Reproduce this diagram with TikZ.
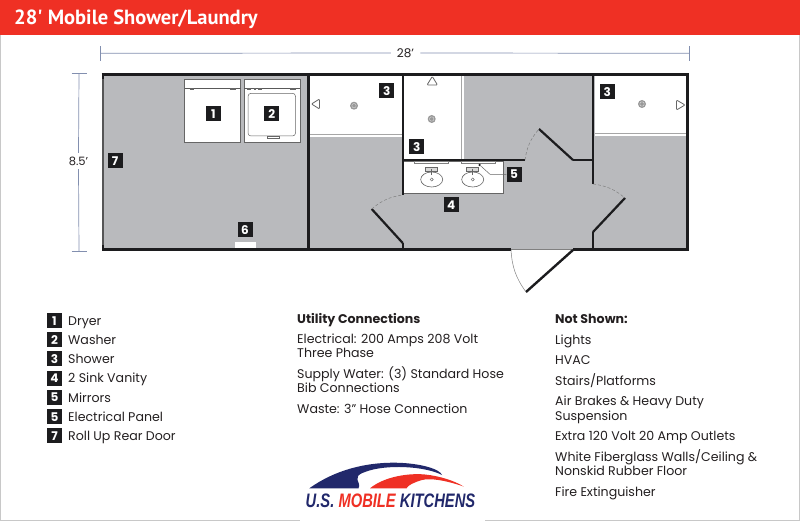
\documentclass[tikz,border=0pt]{standalone}
\usepackage{fontspec}
\setmainfont{Poppins}
\newfontfamily\titlefont{PT Sans}
\newfontfamily\logofont{Liberation Sans}
\usepackage{xcolor}
\definecolor{HeaderRed}{RGB}{239,48,36}
\definecolor{FloorGray}{RGB}{185,186,189}
\definecolor{WallBlack}{RGB}{28,28,30}
\definecolor{DimBlue}{RGB}{130,143,175}
\definecolor{LogoBlue}{RGB}{33,40,107}
\definecolor{FrameGray}{RGB}{200,200,200}
\definecolor{TextBlack}{RGB}{35,31,32}

\begin{document}
\begin{tikzpicture}[
  x=1pt, y=-1pt,
  font=\fontsize{12.6}{14}\selectfont,
  badge/.style={rectangle, fill=WallBlack, text=white, minimum size=15pt, inner sep=0pt, font=\fontsize{12}{12}\selectfont\bfseries},
  item/.style={anchor=base west, inner sep=0pt, text=TextBlack},
  wall/.style={line width=3pt, draw=WallBlack, line cap=butt},
  swing/.style={densely dashed, line width=0.5pt, draw=gray},
  dim/.style={line width=0.7pt, draw=DimBlue},
  room/.style={fill=white, draw=none},
  fixture/.style={fill=white, draw=gray!80!black, line width=0.9pt}
  ]
\useasboundingbox (0,0) rectangle (800,521);

% Frame and header
\draw[line width=1.5pt, FrameGray] (0.5,30) -- (0.5,520.3) -- (799.5,520.3) -- (799.5,30);
\fill[HeaderRed] (0,0) rectangle (800,35);
\node[anchor=base west, inner sep=0pt, text=white] (title) at (14,25) {\titlefont\fontsize{20.5}{22}\selectfont\bfseries 28' Mobile Shower/Laundry};

% Floor
\fill[FloorGray] (103,75) rectangle (687,249);

% White rooms
\fill[room] (310,76) rectangle (402,137);
\fill[room] (404,76) rectangle (464,160);
\fill[room] (595,76) rectangle (686,136);
\draw[line width=0.5pt, gray!70] (310,134.5) -- (402,134.5);
\draw[line width=0.5pt, gray!70] (595,133) -- (686,133);
\draw[line width=0.5pt, gray!70] (461.5,76) -- (461.5,160);

% Vanity
\draw[fixture, fill=white, line width=0.6pt] (404,161) -- (503,161) -- (503,193.5) -- (404,193.5);
\foreach \xa/\xb in {414/448, 461/495}
  \draw[line width=0.5pt, draw=gray, fill=white] (\xa,161) rectangle (\xb,163.5);
\foreach \sx in {431.7, 472.7} {
  \draw[line width=0.6pt, draw=gray!80!black] (\sx,179.5) ellipse (11 and 7.5);
  \draw[line width=0.5pt, draw=gray!80!black] (\sx,179.5) circle (1.6);
  \draw[line width=0.5pt, draw=gray!80!black, fill=gray!30] (\sx-6,167.5) rectangle (\sx+6,171);
  \draw[line width=0.7pt, draw=gray!80!black] (\sx,169) -- (\sx,175);
}

% Dryer and washer
\draw[fixture] (184.5,79) rectangle (240.5,142);
\draw[fixture] (244,79) rectangle (300,142);
\draw[line width=0.7pt, draw=gray!70!black] (184.5,88.3) -- (240.5,88.3);
\draw[line width=0.7pt, draw=gray!70!black] (244,88.3) -- (300,88.3);
\draw[fixture, line width=0.5pt, rounded corners=3pt] (248,93.3) rectangle (295.5,136);
\draw[fixture, line width=0.4pt] (267,136) rectangle (279,138);
\foreach \kx/\kw in {191.7/2, 233.3/3, 249/2, 254.5/1, 259.5/2, 292.7/3}
  \fill[gray!80!black] (\kx-\kw,88.3) rectangle (\kx+\kw,90.3);

% Electrical panel on rear
\fill[white] (234.7,242) rectangle (256,248);

% Shower heads and drains
\draw[line width=0.8pt, draw=gray!80!black, fill=white, rounded corners=1pt] (311.5,104) -- (319.5,99) -- (319.5,109) -- cycle;
\draw[line width=0.8pt, draw=gray!80!black, fill=white, rounded corners=1pt] (432.3,76.5) -- (427,85) -- (437.5,85) -- cycle;
\draw[line width=0.8pt, draw=gray!80!black, fill=white, rounded corners=1pt] (685,105) -- (676.5,100) -- (676.5,110) -- cycle;
\foreach \dx/\dy in {354/105.7, 431.7/119, 642/104} {
  \fill[gray!80] (\dx,\dy) circle (4);
  \draw[line width=0.4pt, draw=gray!30] (\dx,\dy) circle (2.2);
}

% Outer walls
\draw[wall] (101.7,74.5) -- (689,74.5);
\draw[wall] (689,249.5) -- (573,249.5);
\draw[wall] (511,249.5) -- (101.7,249.5);
\draw[line width=1.4pt, draw=WallBlack!75] (103,74.5) -- (103,249.5);
\draw[wall, line width=2.4pt] (102.9,74.5) -- (102.9,79);
\draw[wall, line width=2.4pt] (102.9,245) -- (102.9,249.5);
\draw[wall] (687.7,74.5) -- (687.7,249.5);
\draw[line width=0.5pt, gray] (511,249) -- (573,249);

% Partitions
\draw[wall] (308.3,74.5) -- (308.3,249.5);
\draw[wall, line width=2.4pt] (402.7,74.5) -- (402.7,195);
\draw[wall, line width=2.4pt] (402.7,243) -- (402.7,249.5);
\draw[wall, line width=2.4pt] (593,74.5) -- (593,184);
\draw[wall, line width=2.4pt] (593,232) -- (593,249.5);
\draw[wall, line width=2.4pt] (402.7,160) -- (525,160);
\draw[wall, line width=2.4pt] (573,160) -- (593,160);

% Door leaves
\draw[wall, line width=2.2pt] (402.7,243) -- (371.7,209);
\draw[wall, line width=2.2pt] (573,160) -- (539,129);
\draw[wall, line width=2.2pt] (593,232) -- (625,198);
\draw[wall, line width=2.4pt] (573,250) -- (526,292);

% Door swings
\draw[swing] (371.7,209) to[bend left=16] (402.7,195);
\draw[swing] (525,160) to[bend left=16] (539,129);
\draw[swing] (593,184) to[bend left=16] (625,198);
\draw[line width=0.5pt, gray] (511,250) to[bend right=16] (526,292);

% Dimensions
\node[inner sep=0pt, text=TextBlack, font=\fontsize{12}{12}\selectfont] (lenlabel) at (405.5,53) {28'};
\node[inner sep=0pt, text=TextBlack, font=\fontsize{11.5}{12}\selectfont] (widlabel) at (78.5,161.5) {8.5'};
\coordinate (lenA) at (100.5,53.3);
\coordinate (lenB) at (689.5,53.3);
\coordinate (widA) at (79,73.3);
\coordinate (widB) at (79,251.7);
\draw[dim] ([xshift=-6pt]lenlabel.west) -- (lenA);
\draw[dim] ([xshift=6pt]lenlabel.east) -- (lenB);
\draw[dim] ([yshift=4pt]widlabel.north) -- (widA);
\draw[dim] ([yshift=-3pt]widlabel.south) -- (widB);
\draw[dim] ([yshift=-7.5pt]lenA) -- ([yshift=7.5pt]lenA);
\draw[dim] ([yshift=-7.5pt]lenB) -- ([yshift=7.5pt]lenB);
\draw[dim] ([xshift=-7.5pt]widA) -- ([xshift=7.5pt]widA);
\draw[dim] ([xshift=-7.5pt]widB) -- ([xshift=7.5pt]widB);

% Plan badges
\node[badge] (dryer) at (213.3,113.7) {1};
\node[badge] (washer) at (271.7,113.7) {2};
\node[badge] (showerA) at (386.7,91) {3};
\node[badge] (showerB) at (416.7,146.7) {3};
\node[badge] (showerC) at (607.3,91.7) {3};
\node[badge] (vanity) at (451.3,205) {4};
\node[badge] (mirror) at (514,174.3) {5};
\node[badge] (panel) at (245,230) {6};
\node[badge] (door) at (115,160.7) {7};
\node[circle, fill=WallBlack, minimum size=2.5pt, inner sep=0pt] (elec) at (479.7,165) {};
\draw[line width=0.5pt, gray!80!black] (elec) -- (490,174.3) -- (mirror);

% Legend
\foreach \n/\lab/\ly in {1/Dryer/320.7, 2/Washer/339.8, 3/Shower/358.9, 4/2 Sink Vanity/378, 5/Mirrors/397.6, 6/Electrical Panel/416.7, 7/Roll Up Rear Door/435.8} {
  \node[badge] (key\n) at (54.5,\ly) {\ifnum\n=6 5\else\n\fi};
  \node[item] (lab\n) at (68,\ly+4.5) {\lab};
}

% Utility connections
\node[item] (utilhead) at (297,323) {\bfseries Utility Connections};
\node[item] (utilA) at (297,343) {Electrical: 200 Amps 208 Volt};
\node[item] (utilB) at (297,357) {Three Phase};
\node[item] (utilC) at (297,378) {Supply Water: (3) Standard Hose};
\node[item] (utilD) at (297,392) {Bib Connections};
\node[item] (utilE) at (297,413) {Waste: 3” Hose Connection};

% Not shown
\node[item] (nothead) at (555,323) {\bfseries Not Shown:};
\node[item] (notA) at (555,344) {Lights};
\node[item] (notB) at (555,364.5) {HVAC};
\node[item] (notC) at (555,385) {Stairs/Platforms};
\node[item] (notD) at (555,405) {Air Brakes \& Heavy Duty};
\node[item] (notE) at (555,420) {Suspension};
\node[item] (notF) at (555,440) {Extra 120 Volt 20 Amp Outlets};
\node[item] (notG) at (555,461) {White Fiberglass Walls/Ceiling \&};
\node[item] (notH) at (555,475) {Nonskid Rubber Floor};
\node[item] (notI) at (555,496) {Fire Extinguisher};

% Logo
\fill[white] (300,455) rectangle (485,521);
\fill[LogoBlue] (309.3,488.3) .. controls (335,470) and (365,462.5) .. (395,462.7)
  .. controls (420,463) and (440,469) .. (442,475)
  .. controls (425,466) and (385,464) .. (365,472) .. controls (350,477) and (362,482) .. (358.5,488.3) -- cycle;
\fill[HeaderRed] (370,488.3) .. controls (385,476) and (410,473) .. (425,474.5)
  .. controls (440,476) and (455,481) .. (463.5,486.5)
  .. controls (445,480) and (430,478) .. (422,480) .. controls (415,482) and (408,485) .. (406.5,488.3) -- cycle;
\node[inner sep=0pt, text=LogoBlue] (logotext) at (390.5,500.7) {\logofont\fontsize{19.5}{20}\selectfont\bfseries\itshape\scalebox{0.756}[1]{U.S. \textcolor{HeaderRed}{MOBILE} KITCHENS}};
\end{tikzpicture}
\end{document}
